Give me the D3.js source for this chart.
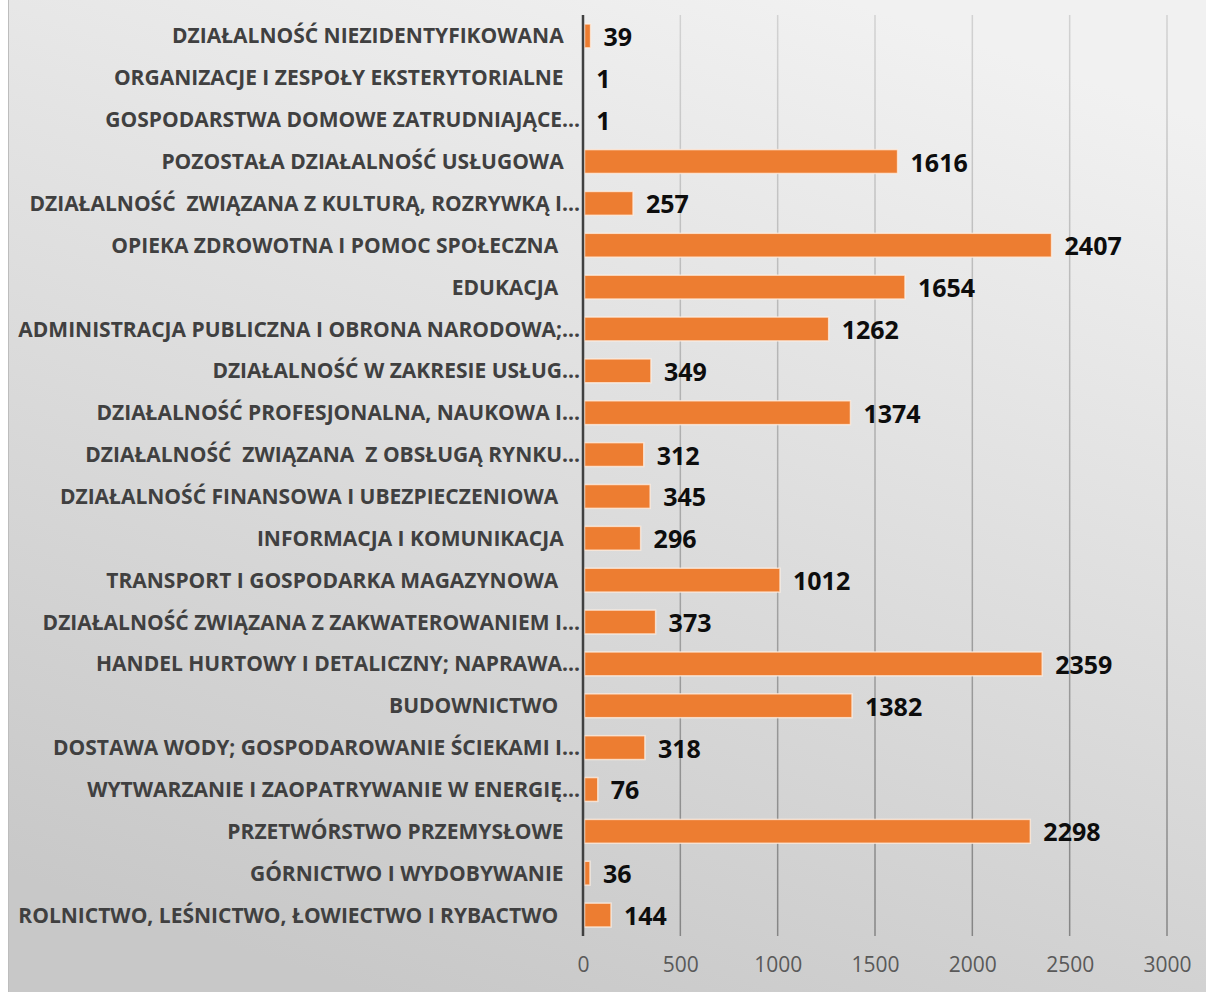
<!DOCTYPE html>
<html lang="pl">
    <head>
        <meta charset="utf-8">
        <title>Podmioty wg sekcji PKD</title>
        <script src="https://d3js.org/d3.v7.min.js"></script>
        <style>
            body {
                margin: 0;
                background: white;
            }
            .cat-label {
                font-family: "Open Sans", sans-serif;
                font-weight: bold;
                font-size: 21px;
                fill: #404040;
                white-space: pre;
            }
            .val-label {
                font-family: "Open Sans", sans-serif;
                font-weight: bold;
                font-size: 25px;
                fill: #0d0d0d;
            }
            .axis text {
                font-family: "Open Sans", sans-serif;
                font-size: 21px;
                fill: #595959;
            }
            .axis path,
            .axis line {
                display: none;
            }
        </style>
    </head>
    <body>
        <div id="chart"></div>
        <script type="text/javascript">
            // data, top row first (trailing spaces as in the source labels)
            var categories = [
                "DZIAŁALNOŚĆ NIEZIDENTYFIKOWANA   ",
                "ORGANIZACJE I ZESPOŁY EKSTERYTORIALNE   ",
                "GOSPODARSTWA DOMOWE ZATRUDNIAJĄCE...",
                "POZOSTAŁA DZIAŁALNOŚĆ USŁUGOWA   ",
                "DZIAŁALNOŚĆ  ZWIĄZANA Z KULTURĄ, ROZRYWKĄ I...",
                "OPIEKA ZDROWOTNA I POMOC SPOŁECZNA    ",
                "EDUKACJA    ",
                "ADMINISTRACJA PUBLICZNA I OBRONA NARODOWA;...",
                "DZIAŁALNOŚĆ W ZAKRESIE USŁUG...",
                "DZIAŁALNOŚĆ PROFESJONALNA, NAUKOWA I...",
                "DZIAŁALNOŚĆ  ZWIĄZANA  Z OBSŁUGĄ RYNKU...",
                "DZIAŁALNOŚĆ FINANSOWA I UBEZPIECZENIOWA    ",
                "INFORMACJA I KOMUNIKACJA   ",
                "TRANSPORT I GOSPODARKA MAGAZYNOWA    ",
                "DZIAŁALNOŚĆ ZWIĄZANA Z ZAKWATEROWANIEM I...",
                "HANDEL HURTOWY I DETALICZNY; NAPRAWA...",
                "BUDOWNICTWO    ",
                "DOSTAWA WODY; GOSPODAROWANIE ŚCIEKAMI I...",
                "WYTWARZANIE I ZAOPATRYWANIE W ENERGIĘ...",
                "PRZETWÓRSTWO PRZEMYSŁOWE   ",
                "GÓRNICTWO I WYDOBYWANIE   ",
                "ROLNICTWO, LEŚNICTWO, ŁOWIECTWO I RYBACTWO    "
            ];
            var values = [39, 1, 1, 1616, 257, 2407, 1654, 1262, 349, 1374, 312, 345, 296, 1012, 373, 2359, 1382, 318, 76, 2298, 36, 144];
            var xTicks = [0, 500, 1000, 1500, 2000, 2500, 3000];

            var w = 1206;
            var h = 992;
            var x0 = 583, x1 = 1167;
            var plotTop = 15, plotBottom = 936;

            var svg = d3.select("#chart").append("svg").attr("width", w).attr("height", h);
            var defs = svg.append("defs");

            // background gradient
            var bg = defs.append("linearGradient").attr("id", "bg")
                .attr("x1", "0.7").attr("y1", "0").attr("x2", "0.3").attr("y2", "1");
            bg.append("stop").attr("offset", "0%").attr("stop-color", "#f1f1f1");
            bg.append("stop").attr("offset", "100%").attr("stop-color", "#c8c8c8");

            var gg = defs.append("linearGradient").attr("id", "grid")
                .attr("gradientUnits", "userSpaceOnUse")
                .attr("x1", 0).attr("y1", plotTop).attr("x2", 0).attr("y2", plotBottom);
            gg.append("stop").attr("offset", "0%").attr("stop-color", "#d2d2d2");
            gg.append("stop").attr("offset", "100%").attr("stop-color", "#858585");

            svg.append("rect").attr("x", 0).attr("y", 0).attr("width", w).attr("height", h).attr("fill", "white");
            svg.append("rect").attr("x", 8).attr("y", 0).attr("width", w - 8).attr("height", h).attr("fill", "url(#bg)");
            svg.append("line").attr("x1", 8.5).attr("x2", 8.5).attr("y1", 0).attr("y2", h).style("stroke", "#bdbdbd").style("stroke-width", 1);

            // scales
            var xScale = d3.scaleLinear().domain([0, 3000]).range([x0, x1]);
            var yScale = d3.scaleBand().domain(d3.range(categories.length)).range([plotTop, plotBottom]).paddingInner(0.43).paddingOuter(0.215);

            // gridlines
            svg.append("g").selectAll("line").data(xTicks.slice(1)).enter()
                .append("line")
                .attr("x1", function(d) { return xScale(d); })
                .attr("x2", function(d) { return xScale(d); })
                .attr("y1", plotTop).attr("y2", plotBottom)
                .style("stroke", "url(#grid)").style("stroke-width", 1.5);

            // bars
            svg.append("g").selectAll("rect").data(values).enter()
                .append("rect")
                .attr("x", xScale(0) + 1.5)
                .attr("y", function(d, i) { return yScale(i); })
                .attr("width", function(d) { return Math.max(0, xScale(d) - xScale(0) - 1.5); })
                .attr("height", yScale.bandwidth())
                .attr("fill", "#ed7d31")
                .style("stroke", "rgba(255,240,228,0.75)").style("stroke-width", 1.5);

            // vertical axis line
            svg.append("line").attr("x1", x0).attr("x2", x0).attr("y1", plotTop).attr("y2", plotBottom)
                .style("stroke", "#404040").style("stroke-width", 2.5);

            // category labels
            svg.append("g").selectAll("text").data(categories).enter()
                .append("text").attr("class", "cat-label")
                .attr("x", x0 - 3)
                .attr("y", function(d, i) { return yScale(i) + yScale.bandwidth() / 2; })
                .attr("dy", "0.36em")
                .attr("text-anchor", "end")
                .text(function(d) { return d; });

            // value labels
            svg.append("g").selectAll("text").data(values).enter()
                .append("text").attr("class", "val-label")
                .attr("x", function(d) { return xScale(d) + 13; })
                .attr("y", function(d, i) { return yScale(i) + yScale.bandwidth() / 2 + 1; })
                .attr("dy", "0.36em")
                .text(function(d) { return d; });

            // x axis tick labels
            var xAxis = d3.axisBottom(xScale).tickValues(xTicks).tickFormat(d3.format("d")).tickSize(0).tickPadding(0);
            svg.append("g").attr("class", "axis").attr("transform", "translate(0,957)").call(xAxis);
        </script>
    </body>
</html>
